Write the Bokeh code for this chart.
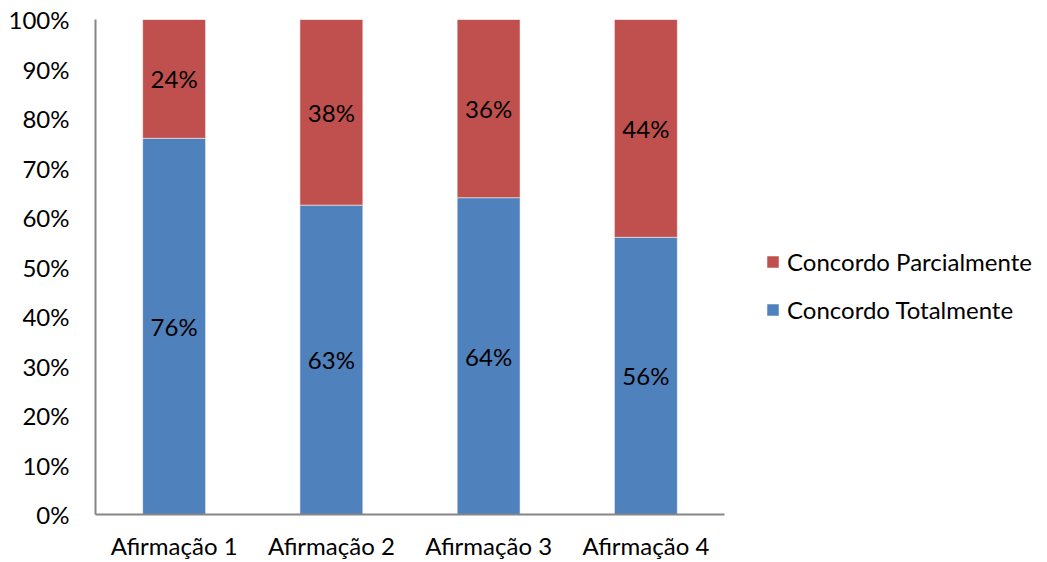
from bokeh.plotting import figure
from bokeh.models import ColumnDataSource, Legend, LegendItem, NumeralTickFormatter, FixedTicker
from bokeh.core.properties import value
from bokeh.embed import file_html
from bokeh.resources import INLINE

categories = ["Afirmação 1", "Afirmação 2", "Afirmação 3", "Afirmação 4"]
totalmente = [0.76, 0.625, 0.64, 0.56]
parcialmente = [0.24, 0.375, 0.36, 0.44]
tot_labels = ["76%", "63%", "64%", "56%"]
parc_labels = ["24%", "38%", "36%", "44%"]
y_ticks = [i / 10 for i in range(11)]

FONT = "Lato"
FS = "24px"
BLUE = "#4F81BD"
RED = "#C0504D"

src = ColumnDataSource(dict(
    cat=categories,
    tot=totalmente,
    parc=parcialmente,
    tot_mid=[t / 2 for t in totalmente],
    parc_mid=[t + p / 2 for t, p in zip(totalmente, parcialmente)],
    tot_lab=tot_labels,
    parc_lab=parc_labels,
))

p = figure(x_range=categories, y_range=(0, 1), output_backend="svg", toolbar_location=None,
           frame_width=629, frame_height=495, min_border_left=95, min_border_top=19,
           min_border_bottom=40, min_border_right=0)
p.x_range.range_padding = 0
p.outline_line_color = None
p.background_fill_color = "white"
p.border_fill_color = "white"

rs = p.vbar_stack(["tot", "parc"], x="cat", width=0.4, source=src, color=[BLUE, RED],
                  line_color="white", line_alpha=0.5, line_width=1)

p.text(x="cat", y="tot_mid", text="tot_lab", source=src, text_align="center", text_baseline="middle",
       text_font=value(FONT), text_font_size=FS, text_color="black")
p.text(x="cat", y="parc_mid", text="parc_lab", source=src, text_align="center", text_baseline="middle",
       text_font=value(FONT), text_font_size=FS, text_color="black")

p.xgrid.visible = False
p.ygrid.visible = False

for ax in (p.xaxis[0], p.yaxis[0]):
    ax.axis_line_color = "#868686"
    ax.axis_line_width = 2
    ax.major_tick_line_color = None
    ax.minor_tick_line_color = None
    ax.major_label_text_font = FONT
    ax.major_label_text_font_size = FS
    ax.major_label_text_color = "black"

p.yaxis.ticker = FixedTicker(ticks=y_ticks)
p.yaxis.formatter = NumeralTickFormatter(format="0%")
p.yaxis.major_label_standoff = 20
p.xaxis.major_label_standoff = 10

legend = Legend(items=[LegendItem(label="Concordo Parcialmente", renderers=[rs[1]]),
                       LegendItem(label="Concordo Totalmente", renderers=[rs[0]])],
                location=(41, 190), orientation="vertical",
                label_text_font=FONT, label_text_font_size=FS, label_text_color="black",
                glyph_width=15, glyph_height=15, spacing=19, label_height=24,
                label_standoff=7, border_line_color=None, background_fill_alpha=0,
                margin=0, padding=0)
p.add_layout(legend, "right")

open("out.html", "w").write(file_html(p, INLINE))
